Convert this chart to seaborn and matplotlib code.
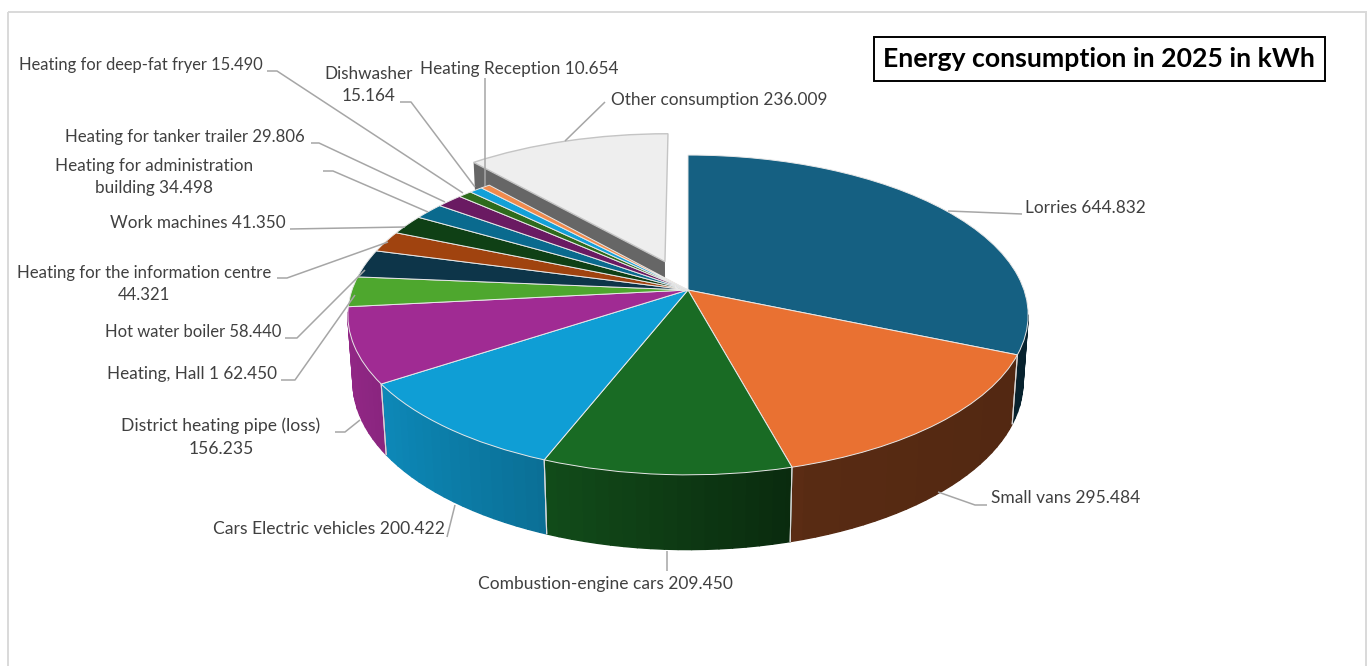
import numpy as np
import matplotlib
matplotlib.use("Agg")
import matplotlib.pyplot as plt
from matplotlib.transforms import Transform
from matplotlib.collections import PolyCollection
from matplotlib.patches import Rectangle
import seaborn as sns

# ---- data ----
categories = ["Lorries", "Small vans", "Combustion-engine cars", "Cars Electric vehicles",
              "District heating pipe (loss)", "Heating, Hall 1", "Hot water boiler",
              "Heating for the information centre", "Work machines",
              "Heating for administration building", "Heating for tanker trailer",
              "Heating for deep-fat fryer", "Dishwasher", "Heating Reception", "Other consumption"]
values = [644.832, 295.484, 209.450, 200.422, 156.235, 62.450, 58.440, 44.321, 41.350,
          34.498, 29.806, 15.490, 15.164, 10.654, 236.009]
slice_colors = ["#156082", "#E97132", "#196B24", "#0F9ED5", "#A02B93", "#4EA72E", "#0D3549",
                "#A0430F", "#0F4015", "#0A6A8E", "#6A1A62", "#2E6B1C", "#13A0D8", "#F08A4C",
                "#EEEEEE"]
title = "Energy consumption in 2025 in kWh"

# ---- label layout (pixels): text, x, y, ha, font size, leader polyline ----
label_layout = [
    ("Lorries 644.832", 1025, 208, "left", 12.4, [(1022, 214), (948, 211)]),
    ("Small vans 295.484", 991, 498, "left", 12.5, [(987, 505), (975, 505), (938, 492)]),
    ("Combustion-engine cars 209.450", 478, 584, "left", 12.5, [(667, 571), (667, 551)]),
    ("Cars Electric vehicles 200.422", 445, 529, "right", 12.6, [(447, 537), (455, 505)]),
    ("District heating pipe (loss)\n156.235", 221, 437, "center", 12.6, [(335, 432), (345, 432), (360, 420)]),
    ("Heating, Hall 1 62.450", 277, 374, "right", 12.3, [(281, 380), (295, 380), (355, 295)]),
    ("Hot water boiler 58.440", 281, 332, "right", 12.0, [(285, 338), (297, 338), (365, 270)]),
    ("Heating for the information centre\n44.321", 144, 284, "center", 12.1, [(277, 278), (287, 278), (388, 242)]),
    ("Work machines 41.350", 286, 223, "right", 12.3, [(290, 229), (405, 227)]),
    ("Heating for administration\nbuilding 34.498", 154, 177, "center", 12.3, [(323, 171), (333, 171), (428, 212)]),
    ("Heating for tanker trailer 29.806", 305, 137, "right", 12.1, [(311, 143), (319, 143), (445, 202)]),
    ("Heating for deep-fat fryer 15.490", 263, 65, "right", 11.9, [(267, 71), (277, 71), (463, 193)]),
    ("Dishwasher\n15.164", 369, 85, "center", 12.3, [(400, 102), (411, 102), (475, 187)]),
    ("Heating Reception 10.654", 420, 69, "left", 12.3, [(485, 78), (485, 186)]),
    ("Other consumption 236.009", 611, 100, "left", 12.4, [(605, 102), (565, 141)]),
]

# ---- projection of the disc (v up, z = depth of the side wall) to pixels ----
CX, CY, A, B, P, H, R = 688.0, 290.0, 156.0, 336.0, 0.156, 67.0, 0.015


def project(u, v, z=0.0):
    w = 1 + P * v + R * z
    return CX + B * u / w, CY - (A * v - H * z) / w


class DiscProjection(Transform):
    input_dims = 2
    output_dims = 2
    has_inverse = False

    def transform_non_affine(self, values):
        values = np.asarray(values, dtype=float)
        x, y = project(values[:, 0], values[:, 1])
        return np.column_stack([x, y])


sns.set_theme(style="white")
plt.rcParams["font.family"] = ["Lato", "DejaVu Sans"]
fig = plt.figure(figsize=(13.71, 6.66), dpi=100, facecolor="white")
ax = fig.add_axes([0, 0, 1, 1])

palette = sns.color_palette(slice_colors)
explode = [0.0] * (len(values) - 1) + [0.2]
wedges, _ = ax.pie(values, colors=palette, explode=explode, startangle=90, counterclock=False,
                   radius=1.0, wedgeprops=dict(edgecolor="#e8e8e8", linewidth=0.7))
ax.set_aspect("auto")
ax.set_xlim(0, 1371)
ax.set_ylim(666, 0)
ax.axis("off")

disc = DiscProjection() + ax.transData


def shade(u):
    return np.interp(u, [-1.0, -0.3, 0.3, 1.0], [0.92, 0.68, 0.38, 0.35])


for i, (wedge, color) in enumerate(zip(wedges, palette)):
    wedge.set_transform(disc)
    wedge.set_clip_on(False)
    wedge.set_zorder(2 if i == len(wedges) - 1 else 4)
    if i == len(wedges) - 1:
        wedge.set_edgecolor("#c4c4c4")
        wedge.set_linewidth(1.0)
        # the cut face of the exploded slice
        c = np.deg2rad(wedge.theta2)
        cu, cv = wedge.center
        ru, rv = cu + np.cos(c), cv + np.sin(c)
        pts = [project(ru, rv), project(cu, cv), project(cu, cv, 1), project(ru, rv, 1)]
        ax.fill(*zip(*pts), color="#666666", zorder=1, lw=0)
        continue
    thetas = np.deg2rad(np.arange(wedge.theta1, wedge.theta2, 2.0))
    thetas = np.append(thetas, np.deg2rad(wedge.theta2))
    polys, cols = [], []
    for t0, t1 in zip(thetas[:-1], thetas[1:]):
        if np.sin(0.5 * (t0 + t1)) > -0.14:
            continue
        u0, v0, u1, v1 = np.cos(t0), np.sin(t0), np.cos(t1), np.sin(t1)
        polys.append([project(u0, v0), project(u1, v1), project(u1, v1, 1), project(u0, v0, 1)])
        s = shade(0.5 * (u0 + u1))
        cols.append(tuple(np.array(color) * s))
    if polys:
        ax.add_collection(PolyCollection(polys, facecolors=cols, edgecolors=cols, linewidths=1.0, zorder=3))
    for a in (wedge.theta1, wedge.theta2):
        t = np.deg2rad(a)
        if np.sin(t) < -0.2:
            p0, p1 = project(np.cos(t), np.sin(t)), project(np.cos(t), np.sin(t), 1)
            ax.plot([p0[0], p1[0]], [p0[1], p1[1]], color="#d8d8d8", lw=0.8, zorder=3.5)

for text, x, y, ha, size, leader in label_layout:
    ax.text(x, y, text, ha=ha, va="center", fontsize=size, color="#404040", linespacing=1.5,
            multialignment="center", zorder=7)
    ax.plot(*zip(*leader), color="#a6a6a6", lw=1.1, zorder=6, solid_capstyle="butt")

ax.text(1099, 59, title, ha="center", va="center", fontsize=19.2, fontweight="bold", color="black", zorder=7)
ax.add_patch(Rectangle((873.5, 36.5), 451, 44, facecolor="none", edgecolor="black", lw=1.4, zorder=7))
ax.add_patch(Rectangle((7.5, 11.5), 1358, 700, facecolor="none", edgecolor="#d9d9d9", lw=1.4, zorder=0, clip_on=True))

fig.savefig("out.png", dpi=100, facecolor="white")
